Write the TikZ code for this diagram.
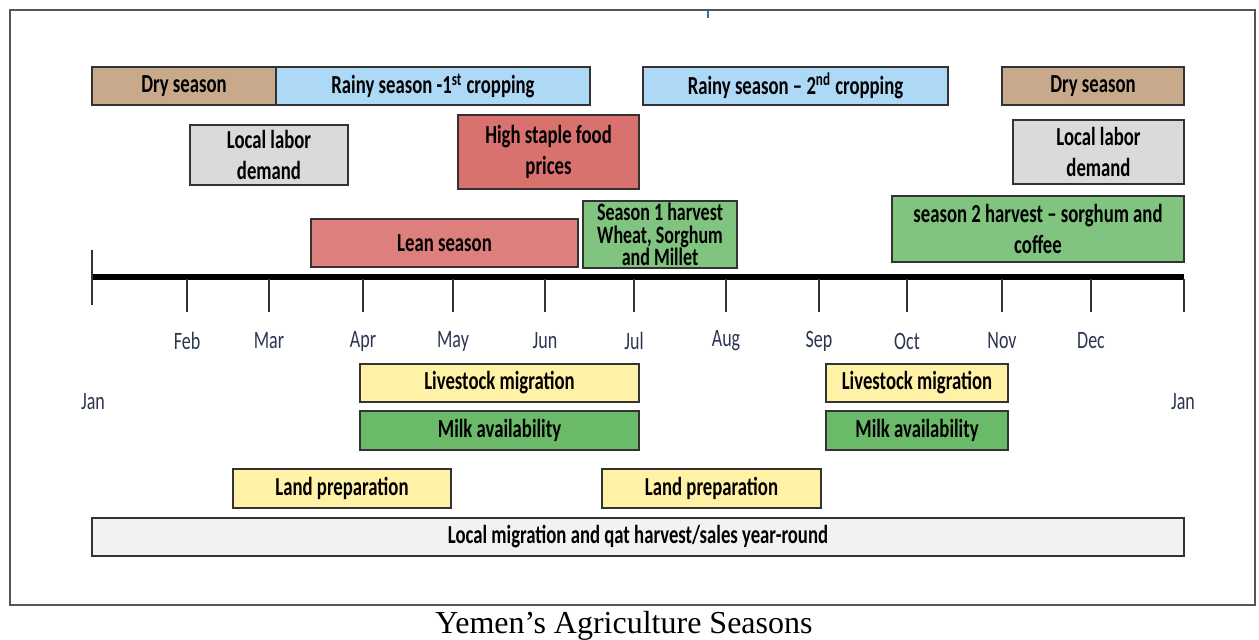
\documentclass[tikz,border=0pt]{standalone}
\usepackage{fontspec}
\setmainfont{Liberation Serif}
\newfontfamily\lblfamily[FakeStretch=0.72]{Carlito}
\usetikzlibrary{fit}

\definecolor{drytan}{HTML}{C9A98B}
\definecolor{rainblue}{HTML}{ADD8F6}
\definecolor{laborgray}{HTML}{DADADA}
\definecolor{pricered}{HTML}{D9726F}
\definecolor{leanred}{HTML}{DD7F7D}
\definecolor{harvestgreen}{HTML}{80C47F}
\definecolor{stockyellow}{HTML}{FFF1A6}
\definecolor{milkgreen}{HTML}{6BBA6A}
\definecolor{roundgray}{HTML}{F2F2F2}
\definecolor{monthnavy}{HTML}{2B3550}
\definecolor{framegray}{HTML}{555555}
\definecolor{markblue}{HTML}{3A6EA5}

\tikzset{
  bar/.style={draw=black!80, line width=1pt, inner sep=0pt},
  bartext/.style={inner sep=0pt, align=center, text=black,
    font=\lblfamily\bfseries\fontsize{13}{15.5}\selectfont},
  tighttext/.style={bartext, font=\lblfamily\bfseries\fontsize{12.5}{11.2}\selectfont},
  monthlabel/.style={font=\lblfamily\fontsize{12.5}{14}\selectfont, text=monthnavy, inner sep=0pt},
  tickline/.style={draw=black!80, line width=0.8pt},
}

\begin{document}
\begin{tikzpicture}[x=0.5pt,y=-0.5pt]
\useasboundingbox (0,0) rectangle (1259,640);

% outer frame and top mark
\draw[framegray, line width=0.9pt] (10,10) rectangle (1255,605);
\draw[markblue, line width=0.8pt] (708,10) -- (708,18);

% caption
\node[font=\fontsize{16}{19}\selectfont] (caption) at (624,626) {Yemen’s Agriculture Seasons};

% seasons row
\node[bar, fill=drytan,   fit={(92,67) (276,105)}]    (dry1)  {};
\node[bartext] at (dry1.center) {Dry season};
\node[bar, fill=rainblue, fit={(276,67) (590,105)}]   (rain1) {};
\node[bartext] at (rain1.center) {Rainy season -1\textsuperscript{st} cropping};
\node[bar, fill=rainblue, fit={(643,67) (948,105)}]   (rain2) {};
\node[bartext] at (rain2.center) {Rainy season – 2\textsuperscript{nd} cropping};
\node[bar, fill=drytan,   fit={(1002,67) (1184,105)}] (dry2)  {};
\node[bartext] at (dry2.center) {Dry season};

% labor demand and prices
\node[bar, fill=laborgray, fit={(190,125) (348,185)}]   (labor1) {};
\node[bartext] at (labor1.center) {Local labor\\demand};
\node[bar, fill=pricered,  fit={(458,115) (639,189)}]   (prices) {};
\node[bartext] at (prices.center) {High staple food\\prices};
\node[bar, fill=laborgray, fit={(1013,120) (1184,184)}] (labor2) {};
\node[bartext] at (labor2.center) {Local labor\\demand};

% lean season and harvests
\node[bar, fill=leanred,      fit={(311,219) (578,267)}]  (lean)  {};
\node[bartext] at (lean.center) {Lean season};
\node[bar, fill=harvestgreen, fit={(583,201) (737,268)}]  (harv1) {};
\node[tighttext] at (harv1.center) {Season 1 harvest\\Wheat, Sorghum\\and Millet};
\node[bar, fill=harvestgreen, fit={(892,196) (1184,262)}] (harv2) {};
\node[bartext] at (harv2.center) {season 2 harvest – sorghum and\\coffee};

% timeline with month ticks
\draw[black, line width=3pt] (92,277) -- (1184,277);
\draw[tickline] (92,250) -- (92,305);
\foreach \x/\m [count=\i] in {187/Feb,269/Mar,363/Apr,453/May,545/Jun,634/Jul,726/Aug,819/Sep,907/Oct,1002/Nov,1091/Dec}{
  \draw[tickline] (\x,279) -- (\x,312);
  \node[monthlabel] (month\i) at (\x,341) {\m};
}
\draw[tickline] (1184,279) -- (1184,312);
\node[monthlabel] (janstart) at (93,402) {Jan};
\node[monthlabel] (janend) at (1183,402) {Jan};

% livestock and milk
\node[bar, fill=stockyellow, fit={(360,364) (639,402)}]  (stock1) {};
\node[bartext] at (stock1.center) {Livestock migration};
\node[bar, fill=milkgreen,   fit={(360,411) (639,450)}]  (milk1)  {};
\node[bartext] at (milk1.center) {Milk availability};
\node[bar, fill=stockyellow, fit={(826,364) (1008,402)}] (stock2) {};
\node[bartext] at (stock2.center) {Livestock migration};
\node[bar, fill=milkgreen,   fit={(826,411) (1008,450)}] (milk2)  {};
\node[bartext] at (milk2.center) {Milk availability};

% land preparation
\node[bar, fill=stockyellow, fit={(233,469) (451,508)}] (land1) {};
\node[bartext] at (land1.center) {Land preparation};
\node[bar, fill=stockyellow, fit={(602,469) (821,508)}] (land2) {};
\node[bartext] at (land2.center) {Land preparation};

% year-round activities
\node[bar, fill=roundgray, fit={(92,518) (1184,556)}] (yearround) {};
\node[bartext] at (yearround.center) {Local migration and qat harvest/sales year-round};
\end{tikzpicture}
\end{document}
